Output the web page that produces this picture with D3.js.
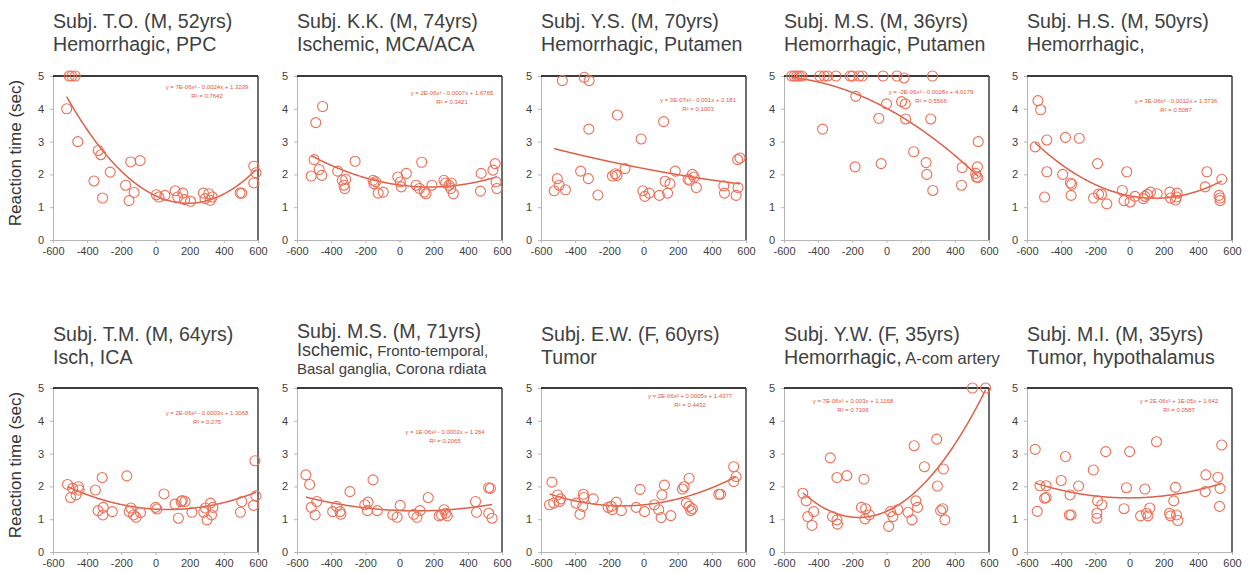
<!DOCTYPE html>
<html><head><meta charset="utf-8">
<script src="https://cdn.jsdelivr.net/npm/d3@7"></script>
<style>
html,body{margin:0;padding:0;background:#fff;}
svg{display:block;font-family:"Liberation Sans",Arial,sans-serif;}
</style></head>
<body>
<svg id="chart" width="1250" height="572"></svg>
<script>
// ---------- DATA ----------
const xTicks = [-600,-400,-200,0,200,400,600];
const yTicks = [0,1,2,3,4,5];
const yLabel = "Reaction time (sec)";

const titles = [
  [[["Subj. T.O. (M, 52yrs)","L"]],[["Hemorrhagic, PPC","L"]]],
  [[["Subj. K.K. (M, 74yrs)","L"]],[["Ischemic, MCA/ACA","L"]]],
  [[["Subj. Y.S. (M, 70yrs)","L"]],[["Hemorrhagic, Putamen","L"]]],
  [[["Subj. M.S. (M, 36yrs)","L"]],[["Hemorrhagic, Putamen","L"]]],
  [[["Subj. H.S. (M, 50yrs)","L"]],[["Hemorrhagic,","L"]]],
  [[["Subj. T.M. (M, 64yrs)","L"]],[["Isch, ICA","L"]]],
  [[["Subj. M.S. (M, 71yrs)","L"]],[["Ischemic,","M"],[" Fronto-temporal,","S"]],[["Basal ganglia, Corona rdiata","S"]]],
  [[["Subj. E.W. (F, 60yrs)","L"]],[["Tumor","L"]]],
  [[["Subj. Y.W. (F, 35yrs)","L"]],[["Hemorrhagic,","L"],[" A-com artery","S2"]]],
  [[["Subj. M.I. (M, 35yrs)","L"]],[["Tumor, hypothalamus","L"]]]
];

const eqText = [
  "y = 7E-06x² - 0.0024x + 1.3239",
  "y = 2E-06x² - 0.0007x + 1.6765",
  "y = 3E-07x² - 0.001x + 2.181",
  "y = -2E-06x² - 0.0028x + 4.0179",
  "y = 3E-06x² - 0.0012x + 1.3736",
  "y = 2E-06x² - 0.0003x + 1.3068",
  "y = 1E-06x² - 0.0002x + 1.264",
  "y = 2E-06x² + 0.0005x + 1.4377",
  "y = 7E-06x² + 0.003x + 1.1168",
  "y = 2E-06x² + 1E-05x + 1.642"
];
const r2Text = ["R² = 0.7642","R² = 0.3421","R² = 0.1003","R² = 0.5566","R² = 0.5087",
                "R² = 0.275","R² = 0.2065","R² = 0.4432","R² = 0.7106","R² = 0.0587"];

// trend-line coefficients [a, b, c]
const fitCoef = [
  [6.45e-6,-0.00245,1.35],
  [2e-6,-0.0007,1.6765],
  [3e-7,-0.001,2.181],
  [-2e-6,-0.0028,4.0179],
  [3.45e-6,-0.00102,1.3465],
  [2e-6,-0.0003,1.3068],
  [1e-6,-0.0002,1.264],
  [2e-6,0.0005,1.4377],
  [7.05e-6,0.0023,1.24],
  [1.5e-6,1e-5,1.65]
];

const ptsTO = [[-505,5],[-490,5],[-470,5],[-520,4.0],[-455,3.0],[-335,2.73],[-320,2.6],[-360,1.8],[-310,1.28],
  [-265,2.07],[-175,1.67],[-155,1.2],[-125,1.45],[-145,2.38],[-90,2.42],[5,1.38],[20,1.31],[55,1.36],[115,1.5],
  [130,1.31],[160,1.43],[170,1.23],[205,1.18],[280,1.43],[290,1.26],[312,1.41],[320,1.21],[332,1.31],[495,1.43],
  [505,1.43],[575,2.25],[588,2.05],[575,1.74]];
const ptsKK = [[-517,1.95],[-500,2.45],[-490,3.58],[-450,4.07],[-470,2.15],[-455,1.97],[-362,2.1],[-335,1.82],
  [-315,1.85],[-325,1.67],[-320,1.57],[-260,2.4],[-155,1.82],[-150,1.72],[-140,1.78],[-125,1.43],[-95,1.46],
  [-10,1.92],[10,1.62],[40,2.03],[5,1.77],[97,1.67],[117,1.57],[130,2.37],[145,1.46],[155,1.41],[190,1.67],
  [260,1.82],[270,1.74],[290,1.67],[300,1.57],[315,1.41],[303,1.74],[478,2.03],[474,1.49],[547,2.13],[560,2.33],
  [565,1.77],[570,1.57]];
const ptsYS = [[-523,1.5],[-505,1.87],[-494,1.67],[-475,4.86],[-457,1.53],[-368,2.1],[-347,4.96],[-318,4.86],
  [-320,3.38],[-323,1.87],[-267,1.37],[-182,1.95],[-165,2.02],[-153,3.81],[-155,1.97],[-108,2.18],[-14,3.08],
  [-4,1.5],[8,1.33],[33,1.43],[93,1.36],[118,3.61],[126,1.79],[141,1.43],[155,1.72],[186,2.1],[261,1.85],
  [271,1.82],[286,2.0],[296,1.92],[309,1.6],[470,1.65],[474,1.43],[542,1.36],[553,1.6],[551,2.45],[565,2.5]];
const ptsMS36 = [[-555,5],[-540,5],[-525,5],[-510,5],[-495,5],[-391,5],[-364,5],[-345,5],[-296,5],[-213,5],
  [-199,5],[-161,5],[-141,5],[-20,5],[61,5],[103,4.94],[269,5],[-180,4.38],[0,4.15],[88,4.22],[110,4.15],
  [112,3.69],[-45,3.71],[259,3.69],[-374,3.38],[-184,2.23],[-31,2.33],[159,2.69],[232,2.36],[236,2.0],
  [271,1.51],[439,1.67],[443,2.21],[522,2.03],[526,1.92],[532,2.23],[537,3.0],[535,1.9]];
const ptsHS = [[-552,2.84],[-536,4.25],[-520,3.97],[-497,1.31],[-484,3.05],[-484,2.08],[-391,2.0],[-375,3.13],
  [-346,1.74],[-342,1.36],[-338,1.7],[-294,3.1],[-210,1.28],[-187,2.33],[-181,1.4],[-164,1.39],[-133,1.1],
  [-42,1.51],[-32,1.2],[-16,2.08],[3,1.16],[32,1.33],[81,1.26],[90,1.33],[104,1.39],[123,1.46],[162,1.41],
  [236,1.46],[240,1.28],[269,1.22],[275,1.31],[279,1.43],[453,2.08],[443,1.62],[540,1.85],[524,1.36],
  [530,1.28],[530,1.2]];
const ptsTM = [[-515,2.06],[-497,1.66],[-485,1.94],[-465,1.74],[-451,1.99],[-447,1.89],[-352,1.89],[-336,1.26],
  [-312,2.27],[-306,1.36],[-308,1.13],[-253,1.23],[-168,2.32],[-154,1.23],[-144,1.34],[-128,1.13],[-114,1.06],
  [-88,1.2],[0,1.36],[8,1.31],[50,1.77],[114,1.46],[134,1.03],[150,1.54],[157,1.57],[173,1.54],[213,1.21],
  [282,1.21],[292,1.34],[302,0.98],[322,1.49],[328,1.13],[336,1.36],[497,1.21],[505,1.54],[574,1.42],
  [582,2.78],[588,1.71]];
const ptsMS71 = [[-548,2.35],[-526,2.06],[-517,1.36],[-494,1.13],[-484,1.54],[-391,1.23],[-368,1.39],[-348,1.23],
  [-343,1.15],[-290,1.84],[-203,1.44],[-184,1.52],[-188,1.26],[-155,2.2],[-130,1.26],[-39,1.13],[-14,1.06],
  [4,1.42],[83,1.15],[102,1.06],[120,1.26],[168,1.66],[232,1.1],[246,1.13],[261,1.29],[271,1.18],[280,1.1],
  [445,1.54],[451,1.21],[522,1.96],[532,1.94],[522,1.18],[542,1.03]];
const ptsEW = [[-550,1.44],[-536,2.13],[-526,1.49],[-503,1.74],[-492,1.54],[-484,1.62],[-395,1.49],[-372,1.15],
  [-352,1.76],[-349,1.66],[-356,1.39],[-294,1.62],[-207,1.36],[-188,1.39],[-182,1.29],[-159,1.52],[-130,1.26],
  [-43,1.36],[-20,1.91],[6,1.23],[64,1.44],[89,1.29],[103,1.05],[108,1.74],[122,2.04],[160,1.11],[228,1.92],
  [238,1.99],[251,1.49],[267,2.25],[267,1.39],[277,1.26],[286,1.32],[441,1.76],[451,1.76],[528,2.6],[528,2.15],
  [542,2.3]];
const ptsYW = [[-490,1.79],[-470,1.56],[-461,1.08],[-436,0.81],[-426,1.23],[-329,2.87],[-316,1.08],[-290,2.27],
  [-290,0.98],[-287,0.85],[-232,2.33],[-147,1.36],[-132,2.22],[-122,1.32],[-126,1.01],[-101,1.13],[13,0.78],
  [23,1.23],[37,1.08],[66,1.29],[126,1.21],[149,0.98],[162,3.24],[172,1.56],[182,1.36],[222,2.6],[294,3.44],
  [298,2.01],[317,1.26],[329,1.32],[333,2.53],[342,0.98],[503,5],[580,5]];
const ptsMI = [[-552,3.13],[-540,1.24],[-524,2.02],[-497,1.64],[-488,1.66],[-488,2.02],[-400,2.18],[-375,2.91],
  [-352,1.13],[-342,1.13],[-348,1.74],[-298,2.01],[-212,2.5],[-191,1.18],[-187,1.56],[-191,1.03],[-162,1.44],
  [-139,3.06],[-32,1.32],[-18,1.96],[1,3.06],[65,1.1],[90,1.92],[100,1.18],[108,1.1],[119,1.34],[158,3.36],
  [234,1.18],[240,1.1],[259,1.56],[269,1.97],[275,1.13],[283,0.96],[443,1.84],[447,2.35],[517,2.28],
  [527,1.39],[530,1.94],[540,3.26]];

const panelPts = [ptsTO, ptsKK, ptsYS, ptsMS36, ptsHS, ptsTM, ptsMS71, ptsEW, ptsYW, ptsMI];

// ---------- LAYOUT ----------
const colLeft = [53, 297, 541, 784, 1027];
const plotW = 205;
const rowTop = [76, 388], plotH = 164;
const titleBase = [[28, 51], [340.5, 364]];
const eqPos = [[154,13],[155,19],[157,26],[147,18],[149,27],[154,27],[148,46],[149,10],[69,15],[152,15]];
const sizeMap = {L:19.6, M:18, S:15, S2:16.5};
const textCol = "#404040", markCol = "#EE6F55", lineCol = "#DD6048";

const svg = d3.select("#chart");
const x = d3.scaleLinear().domain([-600,600]).range([0, plotW]);
const y = d3.scaleLinear().domain([0,5]).range([plotH, 0]);

panelPts.forEach((pts, i) => {
  const row = Math.floor(i/5), col = i%5;
  const L = colLeft[col], T = rowTop[row];
  const g = svg.append("g").attr("transform", `translate(${L},${T})`);

  // axes
  const xa = g.append("g").attr("transform", `translate(0,${plotH})`)
    .call(d3.axisBottom(x).tickValues(xTicks).tickFormat(d => String(d)).tickSize(3).tickPadding(4));
  const ya = g.append("g").call(d3.axisLeft(y).tickValues(yTicks).tickFormat(d => String(d)).tickSize(3).tickPadding(6));
  [xa, ya].forEach(a => {
    a.select(".domain").attr("stroke", "#b5b5b5").attr("stroke-width", 1);
    a.selectAll(".tick line").attr("stroke", "#b5b5b5");
    a.selectAll(".tick text").attr("fill", textCol).attr("font-size", 11)
      .attr("font-family", "'Liberation Sans',Arial,sans-serif");
  });
  // dark top/right frame
  g.append("line").attr("x1", 0).attr("x2", plotW).attr("y1", 0).attr("y2", 0)
    .attr("stroke", "#3c3c3c").attr("stroke-width", 2);
  g.append("line").attr("x1", plotW).attr("x2", plotW).attr("y1", 0).attr("y2", plotH)
    .attr("stroke", "#3c3c3c").attr("stroke-width", 1.5);

  // trend line
  const [a, b, c] = fitCoef[i];
  const ext = d3.extent(pts, d => d[0]);
  const xs = d3.range(ext[0], ext[1], 5).concat([ext[1]]);
  g.append("path").datum(xs)
    .attr("fill", "none").attr("stroke", lineCol).attr("stroke-width", 1.5)
    .attr("d", d3.line().x(v => x(v)).y(v => y(a*v*v + b*v + c)));

  // points
  g.selectAll("circle.pt").data(pts).enter().append("circle").attr("class","pt")
    .attr("cx", d => x(d[0])).attr("cy", d => y(d[1])).attr("r", 5)
    .attr("fill", "none").attr("stroke", markCol).attr("stroke-width", 1.1);

  // equation
  const [ex, ey] = eqPos[i];
  g.append("text").attr("x", ex).attr("y", ey).attr("text-anchor", "middle")
    .attr("font-size", 6).attr("fill", "#E8553A").text(eqText[i]);
  g.append("text").attr("x", ex).attr("y", ey + 9).attr("text-anchor", "middle")
    .attr("font-size", 6).attr("fill", "#E8553A").text(r2Text[i]);

  // titles
  const lines = titles[i];
  let bases;
  if (lines.length === 3) bases = [337.7, 355.7, 374.3];
  else bases = titleBase[row];
  lines.forEach((segs, li) => {
    const t = svg.append("text").attr("x", L).attr("y", bases[li]).attr("fill", textCol)
      .attr("xml:space", "preserve");
    segs.forEach(s => t.append("tspan").attr("font-size", sizeMap[s[1]]).text(s[0]));
  });

  // y label
  if (col === 0) {
    svg.append("text").attr("transform", `translate(21,${T + plotH/2 - 5}) rotate(-90)`)
      .attr("text-anchor", "middle").attr("font-size", 17).attr("fill", "#333")
      .text(yLabel);
  }
});
</script>
</body></html>
